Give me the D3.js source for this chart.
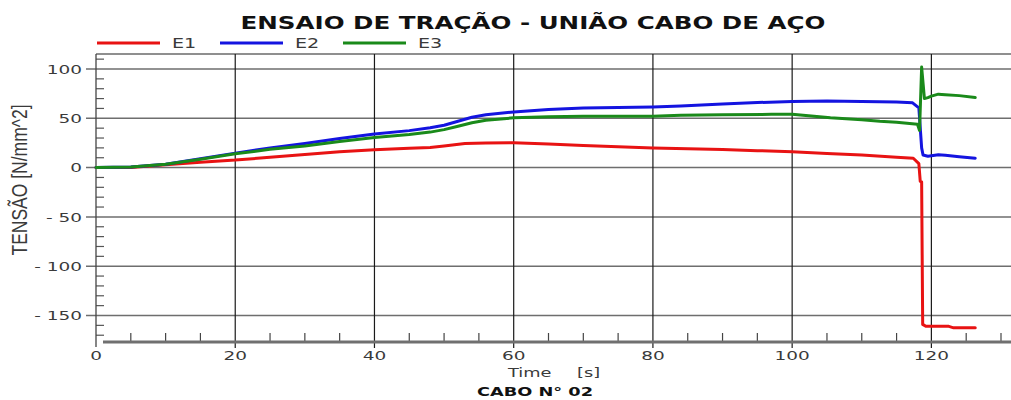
<!DOCTYPE html>
<html><head><meta charset="utf-8">
<script src="https://cdn.jsdelivr.net/npm/d3@7"></script>
<style>body{margin:0;background:#fff}svg{display:block}</style>
</head><body>
<script>
// ---- data ----
const title = "ENSAIO DE TRAÇÃO - UNIÃO CABO DE AÇO";
const subtitle = "CABO N° 02";
const seriesNames = ["E1", "E2", "E3"];
const seriesColors = ["#e81313", "#1414e0", "#1a8a1a"];
const xTicks = [0, 20, 40, 60, 80, 100, 120];
const yTicks = [-150, -100, -50, 0, 50, 100];

const t1 = [0,5,10,15,20,25,30,35,40,45,48,50,53,56,60,65,70,75,80,85,90,95,100,105,110,115,117.4,118.2,118.4,118.6,118.75,119.2,122.5,123.2,126.3];
const e1 = [0,0,3,5.5,7.6,10.5,13.4,16,18,19.5,20.5,22,24.5,25,25.3,24,22.5,21.2,20,19.2,18.4,17.2,16,14.3,12.7,10.5,9.5,4,-14,-14.5,-159,-161,-161,-162.5,-162.5];

const t2 = [0,5,10,15,20,25,30,35,40,45,48,50,52,54,56,60,65,70,75,80,84,90,95,100,105,110,115,117.3,118.2,118.6,118.8,119.5,120,121,122,124,126.3];
const e2 = [0,0.5,3.5,9,14.7,20,24.5,29.5,34,37.5,40.5,43,47,51,53.5,56.5,59,60.5,61,61.5,62.4,64.5,66,67,67.5,67,66.5,65.7,60.6,20,12.7,11.5,12,13,12.5,11,9.5];

const t3 = [0,5,10,15,20,25,30,35,40,45,48,50,52,54,56,60,65,70,80,84,90,97,100,105.5,110,112.6,115,118,118.3,118.6,119,119.5,120,121,122,124,126.3];
const e3 = [0,0.5,3.5,8.5,14,18.5,22,26.5,30.5,33.5,36,38.5,42,45.5,48,50.5,51.5,52,52,53,53.5,54,54,50.5,48.5,47,46,44,37.7,102,70,71,72.5,74.5,74,73,71];

const seriesT = [t1, t2, t3];
const seriesV = [e1, e2, e3];

// ---- layout ----
const W = 1011, H = 400;
const SX = 1.42; // horizontal stretch of the original rendering
const svg = d3.select("body").append("svg").attr("width", W).attr("height", H);

const x = d3.scaleLinear().domain([0, 130]).range([96, 1001]);
const y = d3.scaleLinear().domain([-150, 100]).range([315.5, 69]);
const plotTop = 54, plotBottom = 342;

function stretchedText(px, py, str, opts) {
  const g = svg.append("g").attr("transform", `translate(${px},${py}) scale(${opts.sx || SX},1)`);
  return g.append("text").attr("x", 0).attr("y", 0).text(str)
    .attr("font-family", opts.family || "DejaVu Sans, Verdana, sans-serif")
    .attr("font-size", opts.size).attr("font-weight", opts.weight || "normal")
    .attr("fill", opts.fill || "#333").attr("text-anchor", opts.anchor || "start")
    .style("white-space", "pre");
}

// top border
svg.append("line").attr("x1", 96).attr("x2", W).attr("y1", plotTop).attr("y2", plotTop)
  .attr("stroke", "#6a6a6a").attr("stroke-width", 1.5);

// horizontal grid
svg.append("g").selectAll("line").data(yTicks).join("line")
  .attr("x1", 86).attr("x2", W).attr("y1", d => y(d)).attr("y2", d => y(d))
  .attr("stroke", "#6e6e6e").attr("stroke-width", 1.5);

// y minor ticks
const yMinor = d3.range(-170, 111, 10).filter(v => v % 50 !== 0);
svg.append("g").selectAll("line").data(yMinor).join("line")
  .attr("x1", 96).attr("x2", 104).attr("y1", d => y(d)).attr("y2", d => y(d))
  .attr("stroke", "#555").attr("stroke-width", 1.2);

// x minor ticks
const xMinor = d3.range(5, 131, 5).filter(v => v % 20 !== 0);
svg.append("g").selectAll("line").data(xMinor).join("line")
  .attr("x1", d => x(d)).attr("x2", d => x(d)).attr("y1", plotBottom).attr("y2", plotBottom - 9)
  .attr("stroke", "#444").attr("stroke-width", 1.2);

// vertical grid
svg.append("g").selectAll("line").data(xTicks.filter(d => d > 0)).join("line")
  .attr("x1", d => x(d)).attr("x2", d => x(d)).attr("y1", plotTop).attr("y2", plotBottom + 6)
  .attr("stroke", "#1a1a1a").attr("stroke-width", 1.2);

// bottom axis bar
svg.append("line").attr("x1", 103).attr("x2", W).attr("y1", plotBottom).attr("y2", plotBottom)
  .attr("stroke", "#707070").attr("stroke-width", 3);
// left axis
svg.append("line").attr("x1", 96).attr("x2", 96).attr("y1", plotTop).attr("y2", plotBottom + 5)
  .attr("stroke", "#444").attr("stroke-width", 1.3);

// series
const line = d3.line().x(d => x(d[0])).y(d => y(d[1]));
seriesNames.forEach((name, i) => {
  const pts = seriesT[i].map((t, k) => [t, seriesV[i][k]]);
  svg.append("path").attr("d", line(pts)).attr("fill", "none")
    .attr("stroke", seriesColors[i]).attr("stroke-width", 3)
    .attr("stroke-linejoin", "round").attr("stroke-linecap", "round");
});

// tick labels
yTicks.forEach(v => {
  stretchedText(82, y(v) + 4.8, v < 0 ? "- " + Math.abs(v) : String(v), {size: 13, anchor: "end", fill: "#3a3a3a"});
});
xTicks.forEach(v => {
  stretchedText(x(v), 360, String(v), {size: 13, anchor: "middle", fill: "#3a3a3a"});
});

// axis titles
stretchedText(508, 377, "Time", {size: 12.5, fill: "#3a3a3a"});
stretchedText(577, 377, "[s]", {size: 12.5, fill: "#3a3a3a"});
stretchedText(535, 396, subtitle, {size: 12.5, weight: "bold", anchor: "middle", fill: "#111"});

// y label (rotated)
svg.append("g").attr("transform", "translate(27,180) rotate(-90) scale(1,1.3)")
  .append("text").text("TENSÃO [N/mm^2]")
  .attr("font-family", "Liberation Sans, Arial, sans-serif").attr("font-size", 17.5)
  .attr("text-anchor", "middle").attr("fill", "#3a3a3a");

// title
stretchedText(533, 29, title, {size: 17.3, weight: "bold", anchor: "middle", fill: "#111"});

// legend
const legX = [97, 220, 343];
seriesNames.forEach((name, i) => {
  svg.append("line").attr("x1", legX[i]).attr("x2", legX[i] + 63).attr("y1", 43).attr("y2", 43)
    .attr("stroke", seriesColors[i]).attr("stroke-width", 3);
  stretchedText(legX[i] + 75, 48, name, {size: 13.5, fill: "#3a3a3a"});
});
</script>
</body></html>
